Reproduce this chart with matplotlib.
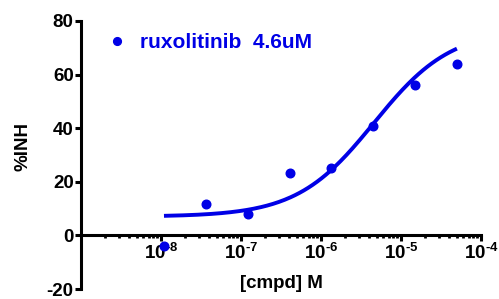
import numpy as np
import matplotlib
matplotlib.use("Agg")
import matplotlib.pyplot as plt
from matplotlib.ticker import LogLocator, NullFormatter, FixedLocator

# ====================================
# DATA
# ====================================

conc = [1.09e-8, 3.65e-8, 1.215e-7, 4.05e-7, 1.35e-6, 4.5e-6, 1.5e-5, 5.0e-5]
inh = [-4.0, 11.7, 8.0, 23.3, 25.0, 41.0, 56.0, 64.0]

# fitted 4PL parameters
fit_bottom = 7.0
fit_top = 77.0
fit_ic50 = 4.6e-6
fit_hill = 0.9

legend_label = "ruxolitinib  4.6uM"

x_ticks = [1e-8, 1e-7, 1e-6, 1e-5, 1e-4]
x_tick_labels = [r"$\mathbf{10^{\text{-}8}}$", r"$\mathbf{10^{\text{-}7}}$",
                 r"$\mathbf{10^{\text{-}6}}$", r"$\mathbf{10^{\text{-}5}}$",
                 r"$\mathbf{10^{\text{-}4}}$"]
y_ticks = [-20, 0, 20, 40, 60, 80]

# ====================================
# STYLE
# ====================================

plt.rcParams["font.family"] = ["Liberation Sans", "DejaVu Sans"]
plt.rcParams["font.weight"] = "bold"
plt.rcParams["mathtext.fontset"] = "custom"
plt.rcParams["mathtext.rm"] = "Liberation Sans:bold"
plt.rcParams["mathtext.bf"] = "Liberation Sans:bold"
plt.rcParams["mathtext.default"] = "bf"

blue = "#0000e6"

fig = plt.figure(figsize=(4.99, 2.99), dpi=100)
ax = fig.add_axes([0.1623, 0.0334, 0.8016, 0.8964])

# ====================================
# CURVE + POINTS
# ====================================

xs = np.logspace(np.log10(conc[0]), np.log10(conc[-1]), 200)
ys = fit_bottom + (fit_top - fit_bottom) / (1 + (fit_ic50 / xs) ** fit_hill)

ax.plot(xs, ys, color=blue, linewidth=2.8, solid_capstyle="butt")
ax.plot(conc, inh, "o", color=blue, markersize=6.2,
        linestyle="none", label=legend_label)

# ====================================
# AXES
# ====================================

ax.set_xscale("log")
ax.set_xlim(1e-9, 1e-4)
ax.set_ylim(-20, 80)

ax.spines["top"].set_visible(False)
ax.spines["right"].set_visible(False)
ax.spines["bottom"].set_position(("data", 0))
ax.spines["left"].set_linewidth(2.2)
ax.spines["bottom"].set_linewidth(2.2)

ax.xaxis.set_major_locator(FixedLocator(x_ticks))
ax.set_xticklabels(x_tick_labels)
ax.xaxis.set_minor_locator(LogLocator(base=10, subs=np.arange(2, 10), numticks=20))
ax.xaxis.set_minor_formatter(NullFormatter())

ax.set_yticks(y_ticks)
ax.set_yticklabels([str(v) for v in y_ticks])

ax.tick_params(axis="x", which="major", direction="out", length=4.5,
               width=2.2, labelsize=13.5, pad=1)
ax.tick_params(axis="x", which="minor", direction="out", length=2.2, width=2.0)
ax.tick_params(axis="y", which="major", direction="out", length=4.3,
               width=2.2, labelsize=13.5, pad=1)

ax.set_xlabel("[cmpd] M", fontsize=13.5, fontweight="bold")
ax.xaxis.set_label_coords(0.5, 0.052)
ax.set_ylabel("%INH", fontsize=13.5, fontweight="bold")
ax.yaxis.set_label_coords(-0.1225, 0.53)

# ====================================
# LEGEND
# ====================================

leg = ax.legend(loc="center left", bbox_to_anchor=(0.064, 0.918),
                frameon=False, fontsize=15, handlelength=1.0,
                handletextpad=0.6, borderpad=0, borderaxespad=0,
                markerscale=0.9)
for t in leg.get_texts():
    t.set_color(blue)
    t.set_fontweight("bold")

fig.savefig("out.png", dpi=100)
